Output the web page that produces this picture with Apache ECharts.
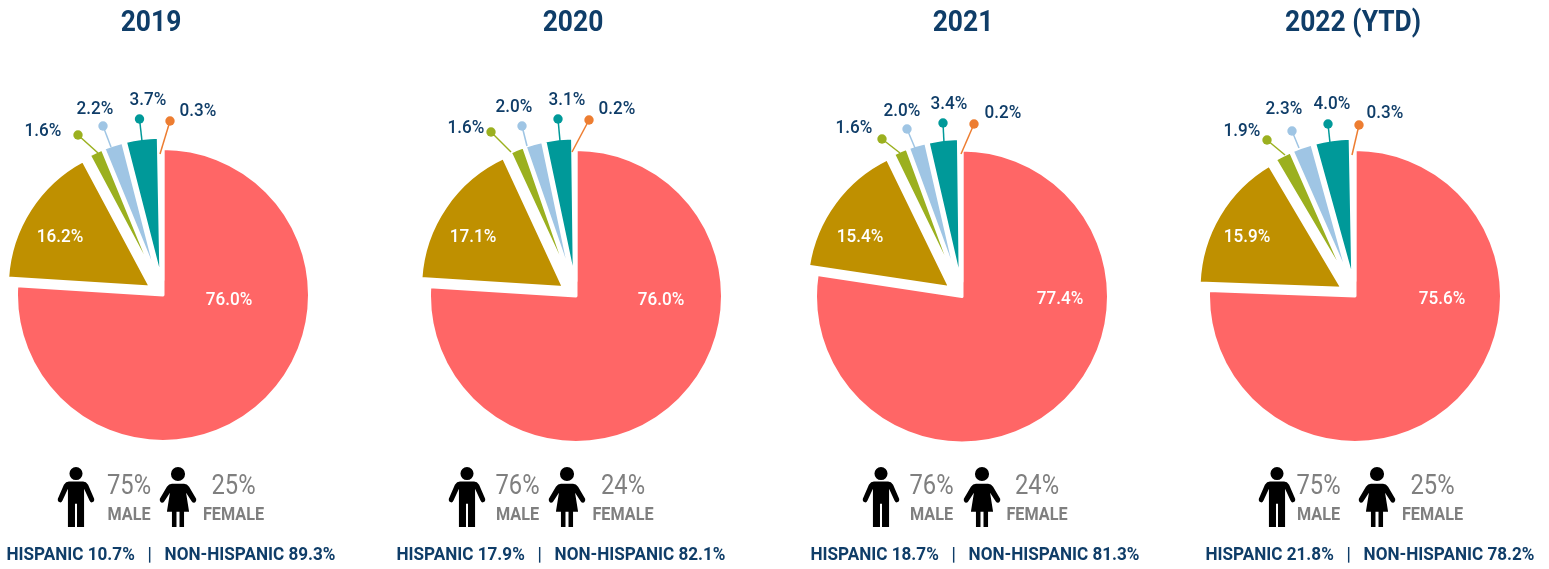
<!DOCTYPE html>
<html>
<head>
<meta charset="utf-8">
<style>
  html, body { margin: 0; padding: 0; background: #fff; }
  #chart { width: 1549px; height: 569px; }
</style>
<script src="https://cdn.jsdelivr.net/npm/echarts@6/dist/echarts.min.js"></script>
</head>
<body>
<div id="chart"></div>
<script>
// data
var years = ["2019", "2020", "2021", "2022 (YTD)"];
var sliceNames = ["Red", "Gold", "Green", "Blue", "Teal", "Orange"];
var shares2019 = [76.0, 16.2, 1.6, 2.2, 3.7, 0.3];
var shares2020 = [76.0, 17.1, 1.6, 2.0, 3.1, 0.2];
var shares2021 = [77.4, 15.4, 1.6, 2.0, 3.4, 0.2];
var shares2022 = [75.6, 15.9, 1.9, 2.3, 4.0, 0.3];
var malePct = [75, 76, 76, 75];
var femalePct = [25, 24, 24, 25];
var hispanicPct = [10.7, 17.9, 18.7, 21.8];
var nonHispanicPct = [89.3, 82.1, 81.3, 78.2];

var allShares = [shares2019, shares2020, shares2021, shares2022];

// layout per panel
var sliceColors = ["#ff6666", "#bf9000", "#9bb01f", "#9fc5e4", "#009999", "#ed7d31"];
var navy = "#0f3d68";
var grey = "#7f7f7f";
var font = "Roboto, sans-serif";

var panels = [
  { cx: 163, cy: 295, title: 151, male: 76, maleText: 129, female: 178, femaleText: 233.5, foot: 171,
    labels: [[229, 299], [60, 236], [43, 130], [95, 108], [148, 99], [198, 110]],
    dots: [[78, 135], [103, 126], [139.5, 119], [170, 121]],
    ends: [[98, 153], [111, 147], [142, 141], [160, 154]] },
  { cx: 576, cy: 296, title: 573, male: 467, maleText: 517.5, female: 567, femaleText: 623, foot: 561,
    labels: [[661, 299], [473, 236], [466, 127], [514, 106], [567, 99], [617, 108]],
    dots: [[491, 132], [522, 126], [558, 119], [589, 120]],
    ends: [[511, 152], [527, 146], [560, 141], [572, 152]] },
  { cx: 962, cy: 296.5, title: 963, male: 881, maleText: 931.5, female: 982, femaleText: 1037, foot: 975,
    labels: [[1060, 298], [860, 236], [854, 127], [902, 110], [949, 103], [1003, 112]],
    dots: [[882, 139], [907, 129], [943, 123], [974, 124]],
    ends: [[900, 153], [915, 148], [944, 143], [961, 154]] },
  { cx: 1355, cy: 296, title: 1353, male: 1277, maleText: 1318.5, female: 1377, femaleText: 1432.5, foot: 1370,
    labels: [[1442, 298], [1247, 236], [1242, 130], [1284, 108], [1332, 103], [1385, 112]],
    dots: [[1267, 140], [1292, 131], [1328, 124], [1359, 125]],
    ends: [[1285, 155], [1299, 148], [1330, 143], [1352, 155]] }
];

var malePath = "M24.5 7A6.5 6.5 0 1 1 11.5 7A6.5 6.5 0 1 1 24.5 7Z M11 15H25Q28 15 30 18L36 32Q36.5 35 34 35.5Q32.5 36 31.5 34L26 22V60H19V37H17V60H10V22L4.5 34Q3.5 36 2 35.5Q-.5 35 0 32L6 18Q8 15 11 15Z";
var femalePath = "M25 7.5A7 7 0 1 1 11 7.5A7 7 0 1 1 25 7.5Z M12 17H24Q27 17 29 20L36 32Q36.5 35 34 36Q32.5 36 31.5 34.5L26 26L29 45H24V60H19.5V45H16.5V60H12V45H7L10 26L4.5 34.5Q3.5 36 2 36Q-.5 35 0 32L7 20Q9 17 12 17Z";

// Roboto is wider than the original condensed face, so squeeze it a bit
function textEl(str, x, y, size, color, weight, squeeze) {
  return {
    type: "text", x: x, y: y, z: 10, scaleX: squeeze || 1,
    style: { text: str, fontFamily: font, fontSize: size, fontWeight: weight || "normal", fill: color, align: "center", verticalAlign: "middle" }
  };
}

// the red slice sits in one pie, the pulled out slices in a slightly smaller one
function pieSeries(p, values, radius, showSlice, offset) {
  return {
    type: "pie",
    animation: false,
    silent: true,
    radius: [0, radius],
    center: [p.cx, p.cy],
    startAngle: 90,
    clockwise: true,
    selectedMode: "multiple",
    selectedOffset: offset,
    label: { show: false },
    labelLine: { show: false },
    data: values.map(function (v, k) {
      var on = showSlice(k);
      return {
        name: sliceNames[k],
        value: v,
        selected: offset > 0,
        itemStyle: {
          color: on ? sliceColors[k] : "transparent",
          borderColor: on ? "#fff" : "transparent",
          borderWidth: 3
        }
      };
    })
  };
}

var series = [];
var graphics = [];

panels.forEach(function (p, i) {
  var values = allShares[i];
  series.push(pieSeries(p, values, 146.5, function (k) { return k === 0; }, 0));
  series.push(pieSeries(p, values, 143, function (k) { return k > 0; }, 15));

  // male and female figures
  [[malePath, p.male], [femalePath, p.female]].forEach(function (icon) {
    series.push({
      type: "custom",
      coordinateSystem: "none",
      silent: true,
      data: [0],
      renderItem: function () {
        return {
          type: "path",
          shape: { pathData: icon[0], layout: "center", x: icon[1] - 18.5, y: 467, width: 37, height: 60 },
          style: { fill: "#000" }
        };
      }
    });
  });

  // leader lines with the round end dots of the small slices
  p.dots.forEach(function (d, k) {
    var color = sliceColors[k + 2];
    graphics.push({
      type: "line", z: 5,
      shape: { x1: p.ends[k][0], y1: p.ends[k][1], x2: d[0], y2: d[1] },
      style: { stroke: color, lineWidth: 1.5 }
    });
    graphics.push({
      type: "circle", z: 6,
      shape: { cx: d[0], cy: d[1], r: 4.7 },
      style: { fill: color }
    });
  });

  // slice value labels
  values.forEach(function (v, k) {
    graphics.push(textEl(v.toFixed(1) + "%", p.labels[k][0], p.labels[k][1] + 1, 19, k < 2 ? "#fff" : navy, "500", 0.9));
  });

  graphics.push(textEl(years[i], p.title, 23, 30, navy, "bold", 0.88));
  graphics.push(textEl(malePct[i] + "%", p.maleText, 487, 27, grey, "normal", 0.88));
  graphics.push(textEl("MALE", p.maleText, 515, 18, grey, "bold", 0.9));
  graphics.push(textEl(femalePct[i] + "%", p.femaleText, 487, 27, grey, "normal", 0.88));
  graphics.push(textEl("FEMALE", p.femaleText, 515, 18, grey, "bold", 0.9));
  graphics.push(textEl("HISPANIC " + hispanicPct[i].toFixed(1) + "%   |   NON-HISPANIC " + nonHispanicPct[i].toFixed(1) + "%", p.foot, 555, 19, navy, "bold", 0.9));
});

var chart = echarts.init(document.getElementById("chart"), null, { renderer: "canvas" });
chart.setOption({
  animation: false,
  backgroundColor: "#fff",
  series: series,
  graphic: graphics
});
</script>
</body>
</html>
